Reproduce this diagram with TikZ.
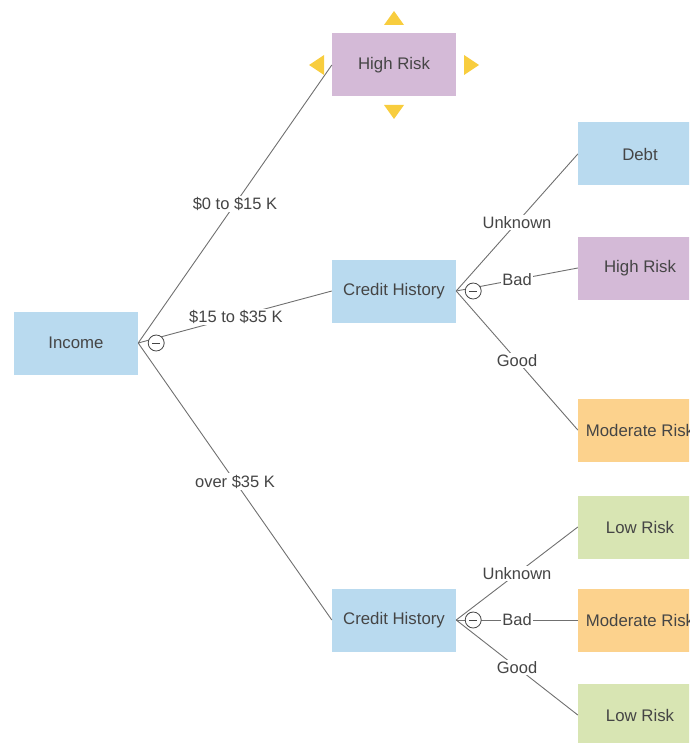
\documentclass[tikz,border=0pt]{standalone}
\usepackage{fontspec}
\setmainfont{Liberation Sans}
\definecolor{nblue}{HTML}{B9DAEF}
\definecolor{npurple}{HTML}{D4BAD7}
\definecolor{norange}{HTML}{FCD28D}
\definecolor{ngreen}{HTML}{D8E5B3}
\definecolor{ntext}{HTML}{454545}
\definecolor{nline}{HTML}{707070}
\definecolor{nyellow}{HTML}{F8CD3E}
\begin{document}
\begin{tikzpicture}[x=1pt,y=-1pt,
  box/.style={minimum width=124pt,minimum height=63pt,inner sep=0pt,text=ntext,font=\fontsize{16.8}{19}\selectfont},
  conn/.style={draw=nline,line width=0.9pt},
  lab/.style={fill=white,inner sep=1.5pt,text=ntext,font=\fontsize{16.5}{19}\selectfont},
  tog/.style={circle,draw=ntext,fill=white,line width=0.8pt,minimum size=16pt,inner sep=0pt},
  tri/.style={fill=nyellow,draw=none}]
\useasboundingbox (0,0) rectangle (689,743);
\clip (0,0) rectangle (689,743);
% nodes
\node[box,fill=nblue] (inc) at (76,343) {Income};
\node[box,fill=npurple] (hr1) at (394,65) {High Risk};
\node[box,fill=nblue] (ch1) at (394,291) {Credit History};
\node[box,fill=nblue] (ch2) at (394,620) {Credit History};
\node[box,fill=nblue] (debt) at (640,154) {Debt};
\node[box,fill=npurple] (hr2) at (640,268) {High Risk};
\node[box,fill=norange] (mr1) at (640,430) {Moderate Risk};
\node[box,fill=ngreen] (lr1) at (640,527) {Low Risk};
\node[box,fill=norange] (mr2) at (640,620) {Moderate Risk};
\node[box,fill=ngreen] (lr2) at (640,715) {Low Risk};
% connectors
\draw[conn] (inc.east) -- node[lab,pos=0.5] {\$0 to \$15 K} (hr1.west);
\draw[conn] (inc.east) -- node[lab,pos=0.505] {\$15 to \$35 K} (ch1.west);
\draw[conn] (inc.east) -- node[lab,pos=0.5] {over \$35 K} (ch2.west);
\draw[conn] (ch1.east) -- node[lab,pos=0.5] {Unknown} (debt.west);
\draw[conn] (ch1.east) -- node[lab,pos=0.5] {Bad} (hr2.west);
\draw[conn] (ch1.east) -- node[lab,pos=0.5] {Good} (mr1.west);
\draw[conn] (ch2.east) -- node[lab,pos=0.5] {Unknown} (lr1.west);
\draw[conn] (ch2.east) -- node[lab,pos=0.5] {Bad} (mr2.west);
\draw[conn] (ch2.east) -- node[lab,pos=0.5] {Good} (lr2.west);
% toggles
\node[tog] (t0) at ([xshift=18pt]inc.east) {};
\draw[ntext,line width=0.8pt] ([xshift=-4pt]t0.center) -- ([xshift=4pt]t0.center);
\node[tog] (t1) at ([xshift=17pt]ch1.east) {};
\draw[ntext,line width=0.8pt] ([xshift=-4pt]t1.center) -- ([xshift=4pt]t1.center);
\node[tog] (t2) at ([xshift=17pt]ch2.east) {};
\draw[ntext,line width=0.8pt] ([xshift=-4pt]t2.center) -- ([xshift=4pt]t2.center);
% selection handles
\fill[tri] (384,25) -- (404,25) -- (394,11) -- cycle;
\fill[tri] (384,105) -- (404,105) -- (394,119) -- cycle;
\fill[tri] (324,55) -- (324,75) -- (309,65) -- cycle;
\fill[tri] (464,55) -- (464,75) -- (479,65) -- cycle;
\end{tikzpicture}
\end{document}
